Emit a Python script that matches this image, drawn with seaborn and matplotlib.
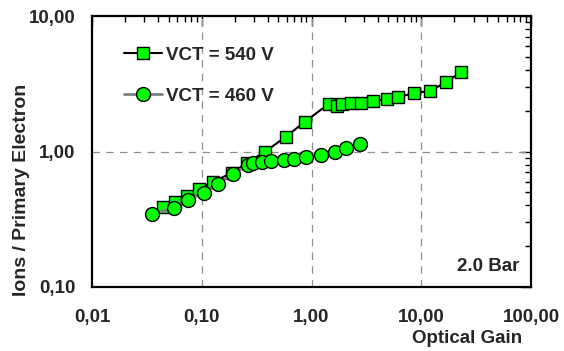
"""
Ions per primary electron vs optical gain
"""
import matplotlib
matplotlib.use("Agg")
import matplotlib.pyplot as plt
import matplotlib.ticker as mticker
import numpy as np
import seaborn as sns

gain_540 = [0.0442, 0.0568, 0.0731, 0.0939, 0.126, 0.187, 0.257, 0.374,
            0.580, 0.864, 1.43, 1.69, 1.91, 2.31, 2.85, 3.66, 4.91, 6.18,
            8.64, 12.1, 16.9, 23.1]
ions_540 = [0.389, 0.424, 0.469, 0.529, 0.596, 0.694, 0.822, 0.992,
            1.28, 1.65, 2.24, 2.17, 2.24, 2.28, 2.28, 2.36, 2.44, 2.52,
            2.70, 2.80, 3.26, 3.86]

gain_460 = [0.0351, 0.0556, 0.0746, 0.104, 0.140, 0.191, 0.262, 0.291,
            0.351, 0.424, 0.556, 0.686, 0.882, 1.23, 1.65, 2.08, 2.79]
ions_460 = [0.346, 0.383, 0.439, 0.494, 0.576, 0.682, 0.795, 0.822,
            0.837, 0.850, 0.865, 0.880, 0.910, 0.950, 0.990, 1.06, 1.14]

sns.set_style("white")
plt.rcParams["font.family"] = ["Liberation Sans", "DejaVu Sans"]
plt.rcParams["font.weight"] = "bold"
plt.rcParams["font.size"] = 13.5

fig = plt.figure(figsize=(5.64, 3.51), dpi=100)
ax = fig.add_axes([92 / 564, 1 - 287 / 351, 439 / 564, 271 / 351])

sns.lineplot(x=gain_540, y=ions_540, ax=ax, estimator=None, sort=False,
             color="black", linewidth=1.5, marker="s", markersize=9,
             markerfacecolor="#00ff00", markeredgecolor="black",
             markeredgewidth=1.0, label="VCT = 540 V", zorder=3)
sns.lineplot(x=gain_460, y=ions_460, ax=ax, estimator=None, sort=False,
             color="#808080", linewidth=2, marker="o", markersize=10,
             markerfacecolor="#00ff00", markeredgecolor="black",
             markeredgewidth=1.0, label="VCT = 460 V", zorder=4)

ax.set_xscale("log")
ax.set_yscale("log")
ax.set_xlim(0.01, 100)
ax.set_ylim(0.1, 10)

fmt = mticker.FuncFormatter(lambda v, p: f"{v:.2f}".replace(".", ","))
ax.xaxis.set_major_formatter(fmt)
ax.yaxis.set_major_formatter(fmt)
ax.xaxis.set_major_locator(mticker.LogLocator(base=10, numticks=10))
ax.yaxis.set_major_locator(mticker.LogLocator(base=10, numticks=10))
ax.xaxis.set_minor_locator(mticker.LogLocator(base=10, subs=np.arange(2, 10), numticks=20))
ax.yaxis.set_minor_locator(mticker.LogLocator(base=10, subs=np.arange(2, 10), numticks=20))
ax.xaxis.set_minor_formatter(mticker.NullFormatter())
ax.yaxis.set_minor_formatter(mticker.NullFormatter())

ax.tick_params(which="both", direction="in", top=True, right=True,
               color="black", width=1.0)
ax.tick_params(which="major", length=7)
ax.tick_params(which="minor", length=4)
ax.tick_params(axis="x", which="major", pad=16)
ax.tick_params(axis="y", which="major", pad=12)

for lv in [0.1, 1, 10]:
    ax.axvline(lv, color="#909090", linestyle=(0, (6, 5)), linewidth=0.9, zorder=1)
ax.axhline(1, color="#909090", linestyle=(0, (6, 5)), linewidth=0.9, zorder=1)

for s in ax.spines.values():
    s.set_color("black")
    s.set_linewidth(1.6)

ax.set_xlabel("Optical Gain", fontweight="bold")
ax.set_ylabel("Ions / Primary Electron", fontweight="bold", fontsize=14)
ax.xaxis.set_label_coords(0.854, -0.16)
ax.yaxis.set_label_coords(-0.141, 0.36)

ax.text(0.973, 0.074, "2.0 Bar", transform=ax.transAxes, ha="right",
        va="center", fontweight="bold")

ax.legend(loc="upper left", bbox_to_anchor=(0.035, 0.95), frameon=False,
          handlelength=2.0, handletextpad=0.25, labelspacing=1.3,
          prop={"weight": "bold", "size": 13.5})

fig.savefig("out.png", dpi=100)
